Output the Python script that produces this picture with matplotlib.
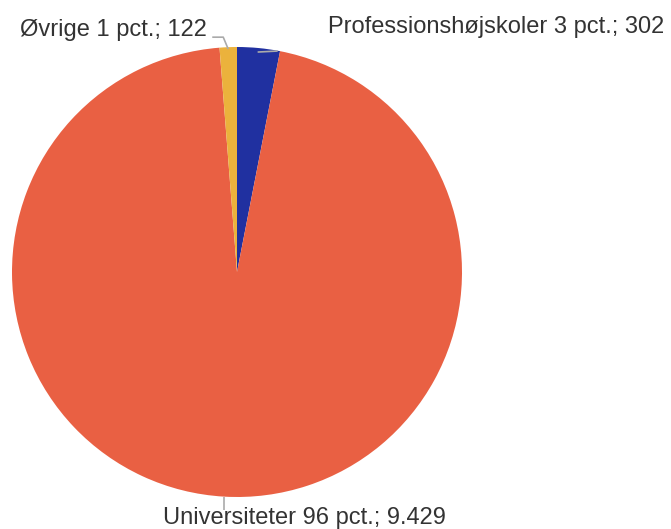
import numpy as np
import matplotlib
matplotlib.use("Agg")
import matplotlib.pyplot as plt

categories = ["Professionshøjskoler", "Universiteter", "Øvrige"]
values = [302, 9429, 122]
pct_labels = ["3", "96", "1"]
value_labels = ["302", "9.429", "122"]
colors = ["#2030A0", "#E96043", "#EBB23C"]

W, H = 671, 529
fig = plt.figure(figsize=(W / 100, H / 100), dpi=100)
cx, cy, r = 237, 272, 225
ax = fig.add_axes([(cx - r) / W, (H - cy - r) / H, 2 * r / W, 2 * r / H])

wedges, _ = ax.pie(values, colors=colors, startangle=90, counterclock=False,
                   radius=1, wedgeprops=dict(linewidth=0))
ax.set_xlim(-1, 1)
ax.set_ylim(-1, 1)
ax.set_aspect("equal")
ax.axis("off")

line_kw = dict(color="#AAAAAA", lw=1.2, clip_on=False, solid_capstyle="butt")
txt_kw = dict(fontsize=17, color="#333333", family=["Liberation Sans", "DejaVu Sans"],
              clip_on=False)

texts = [f"{c} {p} pct.; {v}" for c, p, v in zip(categories, pct_labels, value_labels)]

# Professionshøjskoler
w = wedges[0]
ang = np.deg2rad((w.theta1 + w.theta2) / 2)
x0, y0 = np.cos(ang), np.sin(ang)
x0, y0 = x0 - 1 / r, y0 - 4 / r
ax.plot([x0, x0 + 20 / r], [y0, y0 + 1 / r], **line_kw)
ax.text(x0 + 70 / r, y0 + 25 / r, texts[0], ha="left", va="center", **txt_kw)

# Universiteter
w = wedges[1]
ang = np.deg2rad((w.theta1 + w.theta2) / 2)
x0, y0 = np.cos(ang), np.sin(ang)
ax.plot([x0, x0], [y0, y0 - 13 / r], **line_kw)
ax.text(x0 + 80 / r, y0 - 21 / r, texts[1], ha="center", va="center", **txt_kw)

# Øvrige
w = wedges[2]
ang = np.deg2rad((w.theta1 + w.theta2) / 2)
x0, y0 = np.cos(ang), np.sin(ang)
y0 = y0 - 2 / r
ax.plot([x0, x0 - 5 / r, x0 - 16 / r], [y0, y0 + 12 / r, y0 + 12 / r], **line_kw)
ax.text(x0 - 21 / r, y0 + 19 / r, texts[2], ha="right", va="center", **txt_kw)

fig.savefig("out.png", dpi=100)
